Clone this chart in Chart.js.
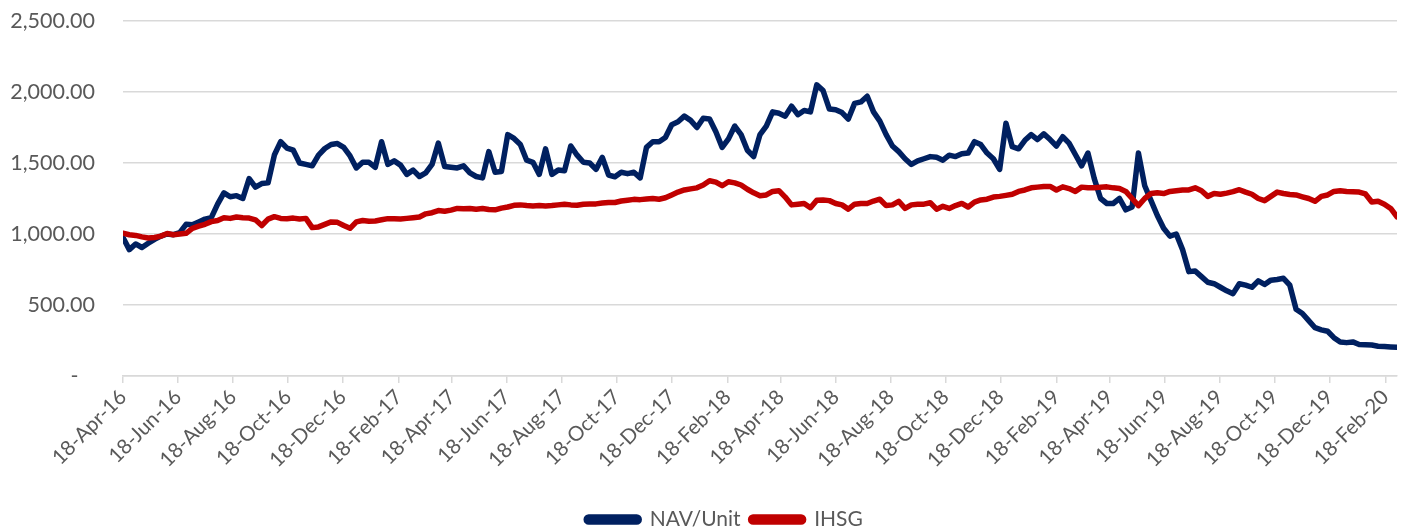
<!DOCTYPE html>
<html>
<head>
<meta charset="utf-8">
<script src="https://cdn.jsdelivr.net/npm/chart.js@4.4.1/dist/chart.umd.min.js"></script>
<style>
  html, body { margin: 0; padding: 0; background: #fff; overflow: hidden; }
  #wrap { position: relative; width: 1405px; height: 540px; }
</style>
</head>
<body>
<div id="wrap"><canvas id="myChart"></canvas></div>
<script>
// weekly observations (Mondays)
var dates = [
  "2016-04-18","2016-04-25",
  "2016-05-02","2016-05-09","2016-05-16","2016-05-23","2016-05-30",
  "2016-06-06","2016-06-13","2016-06-20","2016-06-27",
  "2016-07-04","2016-07-11","2016-07-18","2016-07-25",
  "2016-08-01","2016-08-08","2016-08-15","2016-08-22","2016-08-29",
  "2016-09-05","2016-09-12","2016-09-19","2016-09-26",
  "2016-10-03","2016-10-10","2016-10-17","2016-10-24","2016-10-31",
  "2016-11-07","2016-11-14","2016-11-21","2016-11-28",
  "2016-12-05","2016-12-12","2016-12-19","2016-12-26",
  "2017-01-02","2017-01-09","2017-01-16","2017-01-23","2017-01-30",
  "2017-02-06","2017-02-13","2017-02-20","2017-02-27",
  "2017-03-06","2017-03-13","2017-03-20","2017-03-27",
  "2017-04-03","2017-04-10","2017-04-17","2017-04-24",
  "2017-05-01","2017-05-08","2017-05-15","2017-05-22","2017-05-29",
  "2017-06-05","2017-06-12","2017-06-19","2017-06-26",
  "2017-07-03","2017-07-10","2017-07-17","2017-07-24","2017-07-31",
  "2017-08-07","2017-08-14","2017-08-21","2017-08-28",
  "2017-09-04","2017-09-11","2017-09-18","2017-09-25",
  "2017-10-02","2017-10-09","2017-10-16","2017-10-23","2017-10-30",
  "2017-11-06","2017-11-13","2017-11-20","2017-11-27",
  "2017-12-04","2017-12-11","2017-12-18","2017-12-25",
  "2018-01-01","2018-01-08","2018-01-15","2018-01-22","2018-01-29",
  "2018-02-05","2018-02-12","2018-02-19","2018-02-26",
  "2018-03-05","2018-03-12","2018-03-19","2018-03-26",
  "2018-04-02","2018-04-09","2018-04-16","2018-04-23","2018-04-30",
  "2018-05-07","2018-05-14","2018-05-21","2018-05-28",
  "2018-06-04","2018-06-11","2018-06-18","2018-06-25",
  "2018-07-02","2018-07-09","2018-07-16","2018-07-23","2018-07-30",
  "2018-08-06","2018-08-13","2018-08-20","2018-08-27",
  "2018-09-03","2018-09-10","2018-09-17","2018-09-24",
  "2018-10-01","2018-10-08","2018-10-15","2018-10-22","2018-10-29",
  "2018-11-05","2018-11-12","2018-11-19","2018-11-26",
  "2018-12-03","2018-12-10","2018-12-17","2018-12-24","2018-12-31",
  "2019-01-07","2019-01-14","2019-01-21","2019-01-28",
  "2019-02-04","2019-02-11","2019-02-18","2019-02-25",
  "2019-03-04","2019-03-11","2019-03-18","2019-03-25",
  "2019-04-01","2019-04-08","2019-04-15","2019-04-22","2019-04-29",
  "2019-05-06","2019-05-13","2019-05-20","2019-05-27",
  "2019-06-03","2019-06-10","2019-06-17","2019-06-24",
  "2019-07-01","2019-07-08","2019-07-15","2019-07-22","2019-07-29",
  "2019-08-05","2019-08-12","2019-08-19","2019-08-26",
  "2019-09-02","2019-09-09","2019-09-16","2019-09-23","2019-09-30",
  "2019-10-07","2019-10-14","2019-10-21","2019-10-28",
  "2019-11-04","2019-11-11","2019-11-18","2019-11-25",
  "2019-12-02","2019-12-09","2019-12-16","2019-12-23","2019-12-30",
  "2020-01-06","2020-01-13","2020-01-20","2020-01-27",
  "2020-02-03","2020-02-10","2020-02-17","2020-02-24",
  "2020-03-02"
];

var navUnit = [
  975, 890, 930, 905, 935, 962, 985, 1000, 995, 1010,
  1068, 1065, 1085, 1105, 1115, 1210, 1290, 1262, 1270, 1250,
  1390, 1330, 1355, 1360, 1556, 1650, 1605, 1590, 1500, 1490,
  1480, 1556, 1602, 1630, 1637, 1610, 1550, 1465, 1505, 1505,
  1470, 1650, 1490, 1515, 1485, 1420, 1450, 1405, 1430, 1490,
  1640, 1475, 1470, 1465, 1480, 1430, 1405, 1395, 1580, 1435,
  1440, 1700, 1673, 1630, 1520, 1505, 1420, 1600, 1420, 1450,
  1445, 1620, 1555, 1505, 1500, 1455, 1540, 1415, 1403, 1435,
  1425, 1435, 1395, 1610, 1650, 1650, 1680, 1770, 1790, 1830,
  1800, 1750, 1815, 1810, 1720, 1610, 1670, 1760, 1700, 1590,
  1545, 1700, 1760, 1860, 1850, 1830, 1900, 1840, 1870, 1860,
  2050, 2010, 1880, 1875, 1855, 1810, 1920, 1930, 1970, 1860,
  1795, 1700, 1620, 1580, 1530, 1490, 1515, 1530, 1545, 1540,
  1520, 1555, 1545, 1565, 1570, 1650, 1630, 1570, 1530, 1455,
  1780, 1615, 1600, 1660, 1700, 1665, 1705, 1665, 1620, 1685,
  1640, 1560, 1480, 1570, 1390, 1250, 1215, 1215, 1250, 1170,
  1190, 1570, 1340, 1235, 1130, 1040, 985, 1000, 890, 735,
  740, 700, 660, 650, 625, 600, 580, 650, 640, 625,
  670, 645, 675, 680, 688, 640, 470, 440, 390, 340,
  325, 315, 270, 240, 235, 240, 222, 220, 218, 210,
  208, 205, 202
];

var ihsg = [
  1005, 995, 990, 980, 972, 975, 985, 1003, 995, 1000,
  1005, 1040, 1055, 1068, 1087, 1095, 1115, 1110, 1120, 1115,
  1112, 1100, 1060, 1105, 1122, 1110, 1108, 1112, 1105, 1110,
  1045, 1050, 1068, 1085, 1082, 1060, 1040, 1085, 1095, 1090,
  1092, 1100, 1108, 1108, 1105, 1110, 1115, 1120, 1142, 1150,
  1165, 1160, 1168, 1180, 1178, 1180, 1175, 1180, 1172, 1170,
  1182, 1190, 1202, 1205, 1200, 1198, 1200, 1198, 1200, 1205,
  1210, 1205, 1202, 1210, 1212, 1212, 1218, 1222, 1222, 1232,
  1238, 1244, 1242, 1246, 1250, 1245, 1255, 1275, 1295, 1310,
  1318, 1325, 1345, 1375, 1365, 1340, 1368, 1360, 1345, 1315,
  1290, 1270, 1275, 1300, 1305, 1260, 1205, 1210, 1215, 1185,
  1238, 1240, 1235, 1215, 1205, 1175, 1210, 1215, 1215, 1232,
  1245, 1200, 1205, 1230, 1180, 1205, 1210, 1210, 1220, 1175,
  1195, 1180, 1200, 1215, 1190, 1225, 1240, 1245, 1260, 1265,
  1272, 1280, 1300, 1310, 1325, 1330, 1335, 1335, 1310, 1332,
  1320, 1300, 1330, 1325, 1325, 1330, 1332, 1325, 1320, 1300,
  1250, 1200, 1250, 1285, 1290, 1285, 1300, 1305, 1310, 1310,
  1325, 1305, 1265, 1285, 1280, 1288, 1298, 1312, 1295, 1280,
  1250, 1235, 1265, 1295, 1285, 1278, 1275, 1262, 1250, 1230,
  1265, 1275, 1300, 1305, 1300, 1298, 1295, 1282, 1225, 1230,
  1210, 1180, 1120
];

var tickDates = [
  "2016-04-18","2016-06-18","2016-08-18","2016-10-18","2016-12-18",
  "2017-02-18","2017-04-18","2017-06-18","2017-08-18","2017-10-18","2017-12-18",
  "2018-02-18","2018-04-18","2018-06-18","2018-08-18","2018-10-18","2018-12-18",
  "2019-02-18","2019-04-18","2019-06-18","2019-08-18","2019-10-18","2019-12-18",
  "2020-02-18"
];

var monthNames = ["Jan","Feb","Mar","Apr","May","Jun","Jul","Aug","Sep","Oct","Nov","Dec"];

function toDay(s) {
  var p = s.split("-");
  return Date.UTC(+p[0], +p[1] - 1, +p[2]) / 86400000;
}
function dayLabel(v) {
  var d = new Date(Math.round(v) * 86400000);
  return d.getUTCDate() + "-" + monthNames[d.getUTCMonth()] + "-" + String(d.getUTCFullYear()).slice(2);
}
function points(vals) {
  return dates.map(function (d, i) { return {x: toDay(d), y: vals[i]}; });
}

// the legend in the original sits a little right of centre
var legendShift = {
  id: "legendShift",
  afterLayout: function (chart) {
    chart.legend.left += 26;
    chart.legend.right += 26;
  }
};

Chart.defaults.font.family = "Lato";
Chart.defaults.color = "#595959";

var myChart = new Chart("myChart", {
  type: "line",
  data: {
    datasets: [{
      label: "NAV/Unit",
      data: points(navUnit),
      borderColor: "#002060",
      backgroundColor: "#002060",
      borderWidth: 5.5,
      pointRadius: 0,
      lineTension: 0,
      borderJoinStyle: "round",
      borderCapStyle: "round",
      fill: false,
      order: 2
    }, {
      label: "IHSG",
      data: points(ihsg),
      borderColor: "#C00000",
      backgroundColor: "#C00000",
      borderWidth: 5.5,
      pointRadius: 0,
      lineTension: 0,
      borderJoinStyle: "round",
      borderCapStyle: "round",
      fill: false,
      order: 1
    }]
  },
  plugins: [legendShift],
  options: {
    responsive: true,
    maintainAspectRatio: false,
    animation: false,
    layout: {padding: {left: 0, right: 8, top: 21, bottom: 0}},
    plugins: {
      tooltip: {enabled: false},
      legend: {
        position: "bottom",
        labels: {
          boxWidth: 53,
          boxHeight: 5,
          useBorderRadius: true,
          borderRadius: 2.5,
          padding: 10,
          color: "#595959",
          font: {size: 21},
          sort: function (a, b) { return a.datasetIndex - b.datasetIndex; }
        }
      }
    },
    scales: {
      x: {
        type: "linear",
        min: toDay(dates[0]),
        max: toDay(dates[dates.length - 1]),
        afterBuildTicks: function (scale) {
          scale.ticks = tickDates.map(function (d) { return {value: toDay(d)}; });
        },
        afterFit: function (scale) { scale.height = 123; },
        grid: {drawOnChartArea: false, drawTicks: true, tickLength: 7, color: "#D9D9D9", lineWidth: 1.5},
        border: {display: true, color: "#D9D9D9", width: 1.5},
        ticks: {
          autoSkip: false,
          minRotation: 45,
          maxRotation: 45,
          padding: 2,
          color: "#595959",
          font: {size: 20.5},
          callback: function (v) { return dayLabel(v); }
        }
      },
      y: {
        min: 0,
        max: 2500,
        afterFit: function (scale) { scale.width = 123; },
        grid: {drawTicks: true, tickLength: 28, tickColor: "rgba(0,0,0,0)", color: "#D9D9D9", lineWidth: 1.5},
        border: {display: false},
        ticks: {
          stepSize: 500,
          padding: 0,
          color: "#595959",
          font: {size: 21.5},
          callback: function (v) {
            if (v === 0) return "-   ";
            return v.toLocaleString("en-US", {minimumFractionDigits: 2, maximumFractionDigits: 2});
          }
        }
      }
    }
  }
});
</script>
</body>
</html>
